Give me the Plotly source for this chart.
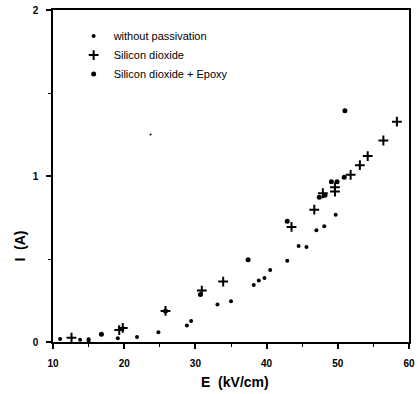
import plotly.graph_objects as go

# without passivation (small dots)
wp_x = [11.0, 13.8, 15.0, 15.0, 19.1, 21.8, 24.8, 28.8, 29.4, 33.1, 35.0, 38.2, 38.9, 39.7, 40.5,
        42.9, 44.5, 45.6, 47.0, 48.1, 49.7]
wp_y = [0.018, 0.014, 0.016, 0.004, 0.022, 0.030, 0.058, 0.100, 0.127, 0.226, 0.246, 0.344, 0.370,
        0.386, 0.433, 0.489, 0.578, 0.572, 0.673, 0.697, 0.767]

# isolated faint speck in the original
speck_x = [23.7]
speck_y = [1.25]

# Silicon dioxide (crosses)
sd_x = [12.6, 19.3, 19.8, 25.8, 30.9, 33.9, 43.5, 46.7, 47.9, 49.6, 49.6, 51.8, 53.1, 54.2, 56.4, 58.3]
sd_y = [0.026, 0.072, 0.085, 0.187, 0.310, 0.364, 0.693, 0.797, 0.896, 0.932, 0.906, 1.007, 1.065,
        1.120, 1.214, 1.327]

# Silicon dioxide + Epoxy (dots)
se_x = [16.8, 25.8, 30.7, 37.4, 42.9, 47.4, 48.2, 49.1, 49.9, 50.9, 51.0]
se_y = [0.046, 0.187, 0.286, 0.496, 0.727, 0.872, 0.884, 0.965, 0.965, 0.993, 1.393]

x_ticks = [10, 20, 30, 40, 50, 60]
y_ticks = [0, 1, 2]

fig = go.Figure()
fig.add_trace(go.Scatter(x=wp_x, y=wp_y, mode="markers", name="without passivation",
                         marker=dict(symbol="circle", size=4, color="black")))
fig.add_trace(go.Scatter(x=sd_x, y=sd_y, mode="markers", name="Silicon dioxide",
                         marker=dict(symbol="cross-thin", size=7, color="black",
                                     line=dict(width=2, color="black"))))
fig.add_trace(go.Scatter(x=se_x, y=se_y, mode="markers", name="Silicon dioxide + Epoxy",
                         marker=dict(symbol="circle", size=5, color="black")))
fig.add_trace(go.Scatter(x=speck_x, y=speck_y, mode="markers", showlegend=False,
                         marker=dict(symbol="circle", size=2, color="black")))

axis_common = dict(showline=True, linecolor="black", linewidth=1.5, mirror=True,
                   ticks="outside", tickcolor="black", ticklen=5, tickwidth=1.5,
                   showgrid=False, zeroline=False, ticklabelstandoff=6,
                   tickfont=dict(family="Arial", size=10, color="black", weight="bold"))

fig.update_xaxes(range=[10, 60], tickvals=x_ticks, ticktext=[str(v) for v in x_ticks],
                 minor=dict(dtick=5, ticks="outside", ticklen=3, tickcolor="black", tickwidth=1),
                 **axis_common)
fig.update_yaxes(range=[0, 2], tickvals=y_ticks, ticktext=[str(v) for v in y_ticks],
                 minor=dict(dtick=0.5, ticks="outside", ticklen=3, tickcolor="black", tickwidth=1),
                 **axis_common)

fig.add_annotation(text="<b>E  (kV/cm)</b>", xref="paper", yref="paper", x=0.51, y=-0.09,
                   xanchor="center", yanchor="top", showarrow=False,
                   font=dict(family="Arial", size=14, color="black"))
fig.add_annotation(text="<b>I  (A)</b>", xref="paper", yref="paper", x=-0.065, y=0.29,
                   xanchor="right", yanchor="middle", showarrow=False, textangle=-90,
                   font=dict(family="Arial", size=14, color="black"))

fig.update_layout(
    width=419, height=394,
    margin=dict(l=52.5, r=4, t=7, b=52),
    paper_bgcolor="white", plot_bgcolor="white",
    showlegend=True,
    legend=dict(x=0.058, y=0.965, xanchor="left", yanchor="top", bgcolor="rgba(0,0,0,0)",
                font=dict(family="Arial", size=11, color="black"), tracegroupgap=0,
                itemwidth=30),
)

fig.write_html("out.html")
